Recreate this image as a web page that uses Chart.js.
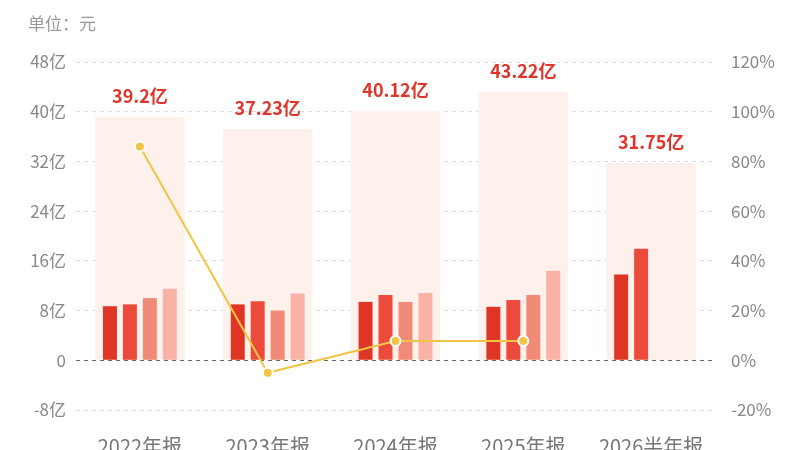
<!DOCTYPE html>
<html>
<head>
<meta charset="utf-8">
<script src="https://cdn.jsdelivr.net/npm/chart.js@4"></script>
<style>
  body { margin: 0; background: #fff; }
  #wrap { width: 800px; height: 450px; }
</style>
</head>
<body>
<div id="wrap"><canvas id="chart"></canvas></div>
<script>
const categories = ['2022年报', '2023年报', '2024年报', '2025年报', '2026半年报'];
const totals = [39.2, 37.23, 40.12, 43.22, 31.75];
const q1 = [8.7, 9.0, 9.4, 8.6, 13.8];
const q2 = [9.0, 9.5, 10.5, 9.7, 17.95];
const q3 = [10.0, 8.0, 9.4, 10.5, null];
const q4 = [11.5, 10.73, 10.82, 14.42, null];
const growth = [86, -5.03, 7.76, 7.73, null];
const leftTicks = [-8, 0, 8, 16, 24, 32, 40, 48];
const rightTicks = [-20, 0, 20, 40, 60, 80, 100, 120];

const FONT = "'Noto Sans CJK SC', sans-serif";

// unit text + total labels above the pale bars
const extras = {
  id: 'extras',
  afterDatasetsDraw(chart) {
    const c = chart.ctx;
    c.save();
    c.fillStyle = '#999';
    c.font = '17px ' + FONT;
    c.textBaseline = 'middle';
    c.textAlign = 'left';
    c.fillText('单位：元', 28, 24);

    const meta = chart.getDatasetMeta(0);
    c.fillStyle = '#E0352B';
    c.font = 'bold 18px ' + FONT;
    c.textAlign = 'center';
    meta.data.forEach((bar, i) => {
      c.fillText(totals[i] + '亿', bar.x, bar.y - 21);
    });
    c.restore();
  }
};

const quarterBar = (data, color) => ({
  type: 'bar',
  data: data,
  backgroundColor: color,
  yAxisID: 'y',
  categoryPercentage: 0.625,
  barPercentage: 0.7,
  order: 2
});

new Chart(document.getElementById('chart'), {
  data: {
    labels: categories,
    datasets: [
      {
        type: 'bar',
        data: totals,
        backgroundColor: '#FEF0EB',
        yAxisID: 'y',
        grouped: false,
        categoryPercentage: 1,
        barPercentage: 0.7,
        order: 3
      },
      quarterBar(q1, '#DF3524'),
      quarterBar(q2, '#EC4A3B'),
      quarterBar(q3, '#F18B77'),
      quarterBar(q4, '#F9B3A6'),
      {
        type: 'line',
        data: growth,
        yAxisID: 'y1',
        borderColor: '#F2C443',
        borderWidth: 2,
        pointBackgroundColor: '#F2C443',
        pointBorderColor: '#fff',
        pointBorderWidth: 2,
        pointRadius: 5,
        tension: 0,
        order: 1
      }
    ]
  },
  options: {
    responsive: true,
    maintainAspectRatio: false,
    animation: false,
    layout: { padding: { top: 62, left: 0, right: 0, bottom: 0 } },
    plugins: {
      legend: { display: false },
      tooltip: { enabled: false }
    },
    scales: {
      x: {
        type: 'category',
        offset: true,
        grid: { display: false },
        border: { display: false },
        ticks: { color: '#777', font: { size: 20, family: FONT }, padding: 16 },
        afterFit: s => { s.height = 40; }
      },
      y: {
        position: 'left',
        min: leftTicks[0],
        max: leftTicks[leftTicks.length - 1],
        afterBuildTicks: s => { s.ticks = leftTicks.map(v => ({ value: v })); },
        grid: {
          color: ctx => ctx.tick && ctx.tick.value === 0 ? '#666' : '#DDD',
          drawTicks: false
        },
        border: { display: false, dash: [4, 4] },
        ticks: {
          color: '#888',
          font: { size: 17, family: FONT },
          padding: 10,
          callback: v => v === 0 ? '0' : v + '亿'
        },
        afterFit: s => { s.width = 76; }
      },
      y1: {
        position: 'right',
        min: rightTicks[0],
        max: rightTicks[rightTicks.length - 1],
        afterBuildTicks: s => { s.ticks = rightTicks.map(v => ({ value: v })); },
        grid: { display: false },
        border: { display: false },
        ticks: {
          color: '#888',
          font: { size: 17, family: FONT },
          padding: 8,
          callback: v => v + '%'
        },
        afterFit: s => { s.width = 85; }
      }
    }
  },
  plugins: [extras]
});
</script>
</body>
</html>
